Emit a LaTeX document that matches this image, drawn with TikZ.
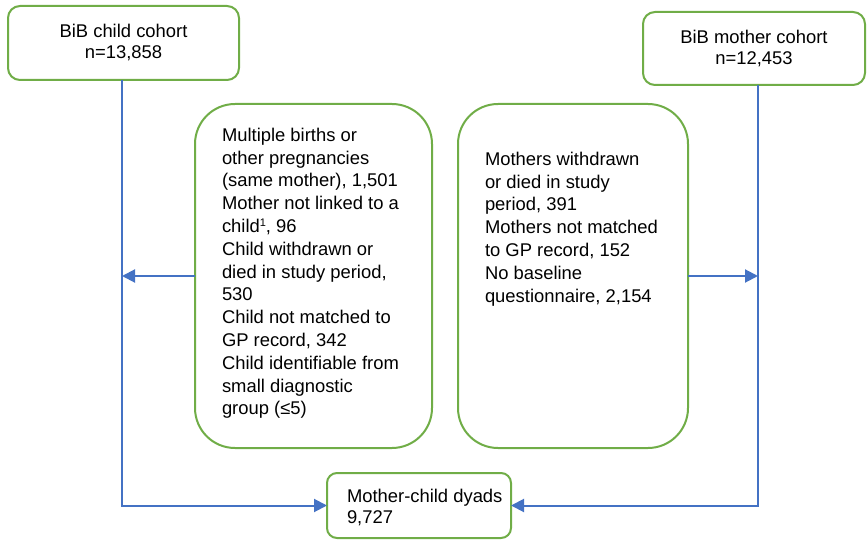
\documentclass[tikz,border=0pt]{standalone}
\usepackage{fontspec}
\setmainfont{Liberation Sans}
\usetikzlibrary{arrows.meta,calc}
\definecolor{boxgreen}{HTML}{70AD47}
\definecolor{lineblue}{HTML}{4472C4}
\begin{document}
\begin{tikzpicture}[x=1pt,y=-1pt,
  basebox/.style={draw=boxgreen,line width=2pt,fill=white,inner sep=0pt,outer sep=0pt},
  topbox/.style={basebox,rounded corners=12pt,align=center,font=\fontsize{18.4}{21}\selectfont},
  exbox/.style={basebox,rounded corners=40pt},
  endbox/.style={basebox,rounded corners=10pt},
  txt/.style={inner sep=0pt,outer sep=0pt,align=left,anchor=north west},
  flow/.style={draw=lineblue,line width=2pt},
  arr/.style={flow,-{Triangle[length=13pt,width=13pt]}}
]
\useasboundingbox (0,0) rectangle (867,540);
% top boxes
\node[topbox,minimum width=231pt,minimum height=74pt] (child) at (123.5,43) {BiB child cohort\\n=13,858};
\node[topbox,minimum width=222pt,minimum height=73pt] (mother) at (754,48.5) {BiB mother cohort\\n=12,453};
% exclusion boxes
\node[exbox,minimum width=237pt,minimum height=344pt] (lbox) at (313.5,276) {};
\node[txt,font=\fontsize{18.4}{22.8}\selectfont] (ltxt) at (222,128) {Multiple births or\\other pregnancies\\(same mother), 1,501\\Mother not linked to a\\child{\fontsize{11}{11}\selectfont\raisebox{6pt}{1}}, 96\\Child withdrawn or\\died in study period,\\530\\Child not matched to\\GP record, 342\\Child identifiable from\\small diagnostic\\group (≤5)};
\node[exbox,minimum width=230pt,minimum height=344pt] (rbox) at (573,276) {};
\node[txt,font=\fontsize{18.4}{22.8}\selectfont] (rtxt) at (485,152) {Mothers withdrawn\\or died in study\\period, 391\\Mothers not matched\\to GP record, 152\\No baseline\\questionnaire, 2,154};
% final box
\node[endbox,minimum width=184pt,minimum height=65pt] (dyad) at (419,505.5) {};
\node[txt,font=\fontsize{18.4}{21}\selectfont] (dtxt) at (347,489) {Mother-child dyads\\9,727};
% connectors
\coordinate (cdown) at (122,80);
\coordinate (mdown) at (758,85);
\draw[arr] (cdown) |- (dyad.west);
\draw[arr] (mdown) |- (dyad.east);
\draw[arr] (lbox.west) -- (lbox.west -| cdown);
\draw[arr] (rbox.east) -- (rbox.east -| mdown);
\end{tikzpicture}
\end{document}
